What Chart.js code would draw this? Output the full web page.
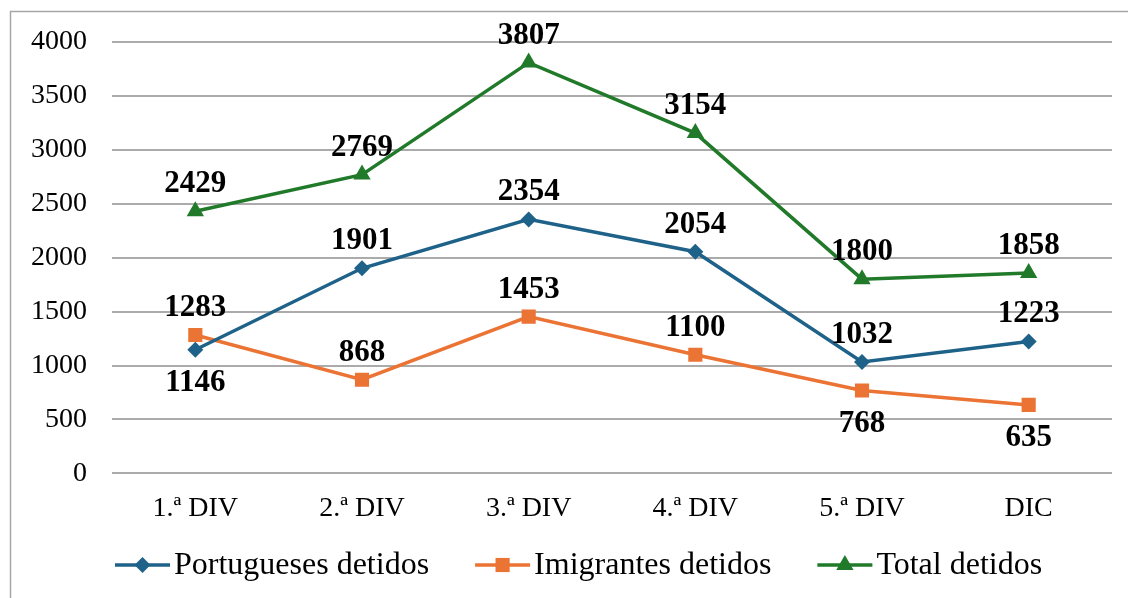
<!DOCTYPE html>
<html><head><meta charset="utf-8">
<script src="https://cdn.jsdelivr.net/npm/chart.js@4/dist/chart.umd.min.js"></script>
<style>html,body{margin:0;padding:0;background:#fff;} #wrap{width:1128px;height:598px;position:relative;}</style>
</head><body><div id="wrap"><canvas id="c" width="1128" height="598"></canvas></div>
<script>
const categories = ['1.ª DIV', '2.ª DIV', '3.ª DIV', '4.ª DIV', '5.ª DIV', 'DIC'];
const portugueses = [1146, 1901, 2354, 2054, 1032, 1223];
const imigrantes = [1283, 868, 1453, 1100, 768, 635];
const total = [2429, 2769, 3807, 3154, 1800, 1858];
const seriesNames = ['Portugueses detidos', 'Imigrantes detidos', 'Total detidos'];
const yTickValues = [0, 500, 1000, 1500, 2000, 2500, 3000, 3500, 4000];

// label placement per point (presentation only)
const labelSide = [
  ['below', 'above', 'above', 'above', 'above', 'above'],
  ['above', 'above', 'above', 'above', 'below', 'below'],
  ['above', 'above', 'above', 'above', 'above', 'above']
];
const colors = ['#1F6289', '#EB7333', '#217A2A'];
const markers = [
  { style: 'rectRot', radius: 8 },
  { style: 'rect', radius: 10 },
  { style: 'triangle', radius: 10 }
];
const SERIF = "'Liberation Serif', 'Times New Roman', serif";

const borderPlugin = {
  id: 'outerBorder',
  beforeDraw(chart) {
    const ctx = chart.ctx;
    ctx.save();
    ctx.fillStyle = '#fff';
    ctx.fillRect(0, 0, chart.width, chart.height);
    ctx.strokeStyle = '#a6a6a6';
    ctx.lineWidth = 1.5;
    ctx.beginPath();
    ctx.moveTo(10.5, chart.height + 5);
    ctx.lineTo(10.5, 11.5);
    ctx.lineTo(chart.width + 5, 11.5);
    ctx.stroke();
    ctx.restore();
  }
};

const labelPlugin = {
  id: 'valueLabels',
  afterDatasetsDraw(chart) {
    const ctx = chart.ctx;
    ctx.save();
    ctx.font = 'bold 31px ' + SERIF;
    ctx.fillStyle = '#000';
    ctx.textAlign = 'center';
    ctx.textBaseline = 'middle';
    chart.data.datasets.forEach((ds, di) => {
      const meta = chart.getDatasetMeta(di);
      meta.data.forEach((pt, i) => {
        const side = labelSide[di][i];
        const y = side === 'above' ? pt.y - 27 : pt.y + 33;
        ctx.fillText(String(ds.data[i]), pt.x, y);
      });
    });
    ctx.restore();
  }
};

const legendPlugin = {
  id: 'customLegend',
  afterDraw(chart) {
    const ctx = chart.ctx;
    ctx.save();
    ctx.font = '32px ' + SERIF;
    ctx.textBaseline = 'middle';
    ctx.textAlign = 'left';
    const cy = 565;
    const lineLen = 55, textGap = 4, itemGap = 46;
    let x = 115;
    chart.data.datasets.forEach((ds, di) => {
      ctx.strokeStyle = colors[di];
      ctx.lineWidth = 3.5;
      ctx.beginPath();
      ctx.moveTo(x, cy);
      ctx.lineTo(x + lineLen, cy);
      ctx.stroke();
      ctx.fillStyle = colors[di];
      Chart.helpers.drawPoint(ctx, {
        pointStyle: markers[di].style, radius: markers[di].radius, rotation: 0, borderWidth: 0
      }, x + lineLen / 2, cy);
      ctx.fillStyle = '#000';
      const tx = x + lineLen + textGap;
      ctx.fillText(ds.label, tx, cy + 1);
      x = tx + ctx.measureText(ds.label).width + itemGap;
    });
    ctx.restore();
  }
};

const seriesValues = [portugueses, imigrantes, total];
const datasets = seriesValues.map((vals, i) => ({
  label: seriesNames[i],
  data: vals,
  borderColor: colors[i],
  backgroundColor: colors[i],
  borderWidth: 3.5,
  pointStyle: markers[i].style,
  pointRadius: markers[i].radius,
  pointHoverRadius: markers[i].radius,
  pointBorderWidth: 0,
  pointBackgroundColor: colors[i],
  tension: 0,
  fill: false
}));

new Chart(document.getElementById('c'), {
  type: 'line',
  data: { labels: categories, datasets },
  options: {
    responsive: false,
    animation: false,
    devicePixelRatio: 1,
    layout: { padding: { top: 41, right: 16, bottom: 55, left: 0 } },
    plugins: { legend: { display: false }, tooltip: { enabled: false } },
    scales: {
      x: {
        offset: true,
        grid: { display: false, drawTicks: false },
        border: { display: false },
        ticks: { color: '#000', font: { family: SERIF, size: 28 }, padding: 18 }
      },
      y: {
        min: 0, max: 4000,
        afterBuildTicks(scale) { scale.ticks = yTickValues.map(v => ({ value: v })); },
        afterFit(scale) { scale.width = 112; },
        grid: { color: '#ababab', lineWidth: 2, drawTicks: false },
        border: { display: false },
        ticks: { color: '#000', font: { family: SERIF, size: 28 }, padding: 25, callback: (v) => String(v) }
      }
    }
  },
  plugins: [borderPlugin, labelPlugin, legendPlugin]
});
</script></body></html>
